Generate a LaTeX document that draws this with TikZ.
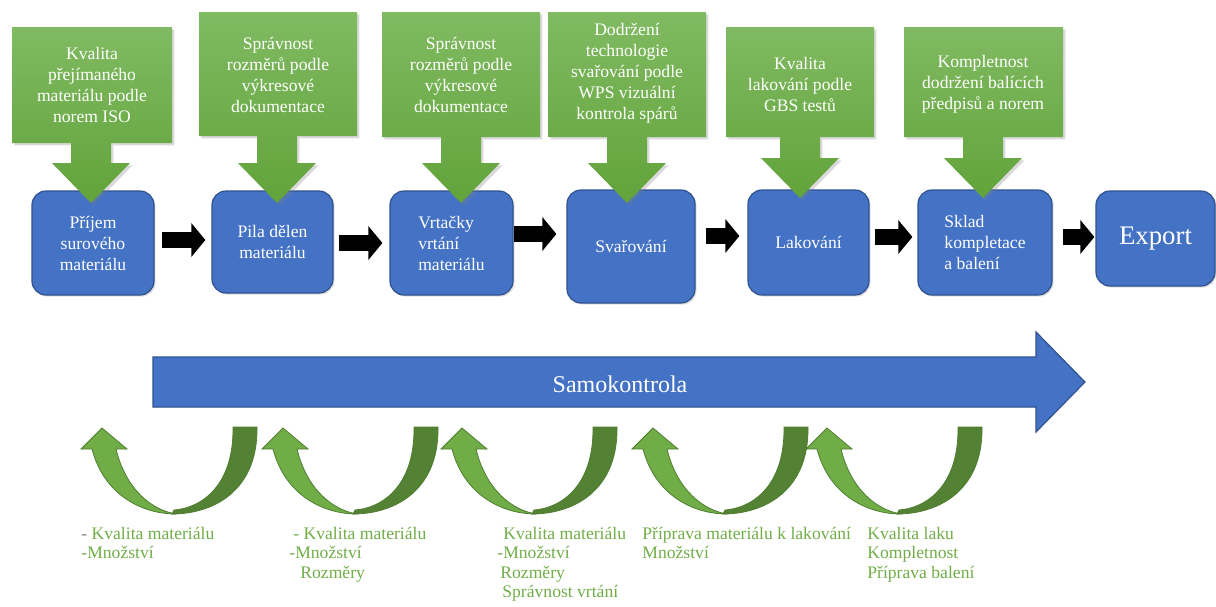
\documentclass[tikz,border=0pt]{standalone}
\usepackage{fontspec}
\setmainfont{Liberation Serif}
\usetikzlibrary{arrows.meta, positioning, calc, shadows}
\definecolor{ProcBlue}{HTML}{4472C4}
\definecolor{ProcEdge}{HTML}{2F528F}
\definecolor{CheckLight}{HTML}{80BA62}
\definecolor{CheckDeep}{HTML}{62A33A}
\definecolor{LoopLight}{HTML}{70AD47}
\definecolor{LoopDark}{HTML}{548235}
\definecolor{LoopEdge}{HTML}{4E7D30}

\begin{document}
\begin{tikzpicture}[x=0.5pt, y=-0.5pt,
        proc/.style={rectangle, rounded corners=7pt, draw=ProcEdge, line width=0.6pt, fill=ProcBlue, text=white, align=center, inner sep=0pt, font=\rmfamily\fontsize{8.8}{10.5}\selectfont, drop shadow={opacity=0.25, shadow xshift=0.8pt, shadow yshift=-0.8pt}},
        callout/.style={top color=CheckLight, bottom color=CheckDeep, drop shadow={opacity=0.3, shadow xshift=1.2pt, shadow yshift=-1.2pt}},
        checktext/.style={text=white, align=center, inner sep=0pt, font=\rmfamily\fontsize{8.8}{10.5}\selectfont},
        flow/.style={-{Triangle[length=7pt, width=16.5pt]}, line width=8pt, black},
        note/.style={anchor=base west, align=left, inner sep=0pt, text=LoopLight, font=\rmfamily\fontsize{8.8}{9.75}\selectfont}
    ]
        \useasboundingbox (0,0) rectangle (1216,606);

        % process steps
        \node[proc, minimum width=61pt, minimum height=52pt] (s1) at (93,243) {Příjem\\surového\\materiálu};
        \node[proc, minimum width=60.5pt, minimum height=51pt] (s2) at (272.5,242) {Pila dělen\\materiálu};
        \node[proc, minimum width=61.5pt, minimum height=52pt, align=left] (s3) at (451.5,243) {Vrtačky\\vrtání\\materiálu};
        \node[proc, minimum width=64pt, minimum height=56.5pt] (s4) at (631,246.5) {Svařování};
        \node[proc, minimum width=60.5pt, minimum height=52.5pt] (s5) at (808.5,242.5) {Lakování};
        \node[proc, minimum width=67pt, minimum height=52.5pt, align=left] (s6) at (985,242.5) {Sklad\\kompletace\\a balení};
        \node[proc, minimum width=59.5pt, minimum height=47.5pt, font=\rmfamily\fontsize{13.4}{15}\selectfont] (ex) at (1155.5,238.5) {Export};

        \draw[flow, shorten <=3.5pt, shorten >=3pt] ([yshift=1.5pt]s1.east) -- ([yshift=1pt]s2.west);
        \draw[flow, shorten <=2.5pt, shorten >=3.5pt] ([yshift=-0.5pt]s2.east) -- ([yshift=0pt]s3.west);
        \draw[flow, shorten <=0pt, shorten >=5pt] ([yshift=4.5pt]s3.east) -- ([yshift=6.25pt]s4.west);
        \draw[flow, shorten <=5pt, shorten >=4pt] ([yshift=5.25pt]s4.east) -- ([yshift=3.25pt]s5.west);
        \draw[flow, shorten <=2.5pt, shorten >=2.5pt] ([yshift=2.75pt]s5.east) -- ([yshift=2.75pt]s6.west);
        \draw[flow, shorten <=5pt, shorten >=0.5pt] ([yshift=2.75pt]s6.east) -- ([yshift=0.75pt]ex.west);

        % quality checks above
        \foreach \l/\r/\t/\b/\c/\h in {12/172/27/143/91/163, 199/357/12/136/277/163, 382/540/12/137/461/163,
                548/706/12/137/627/163, 726/874/27/137/800/158, 904/1063/27/137/983/158}
            \path[callout] (\l,\t) -- (\r,\t) -- (\r,\b) -- ({\c+20},\b) -- ({\c+20},\h) -- ({\c+39},\h)
                -- (\c,{\h+40}) -- ({\c-39},\h) -- ({\c-20},\h) -- ({\c-20},\b) -- (\l,\b) -- cycle;

        \node[checktext] (q1) at (92,85) {Kvalita\\přejímaného\\materiálu podle\\norem ISO};
        \node[checktext] (q2) at (278,75) {Správnost\\rozměrů podle\\výkresové\\dokumentace};
        \node[checktext] (q3) at (461,75) {Správnost\\rozměrů podle\\výkresové\\dokumentace};
        \node[checktext] (q4) at (627,73) {Dodržení\\technologie\\svařování podle\\WPS vizuální\\kontrola spárů};
        \node[checktext] (q5) at (800,84) {Kvalita\\lakování podle\\GBS testů};
        \node[checktext] (q6) at (983,84) {Kompletnost\\dodržení balících\\předpisů a norem};

        % self check
        \path[fill=ProcBlue, draw=ProcEdge, line width=0.6pt] (153,357) -- (1036,357) -- (1036,332) -- (1085,382)
            -- (1036,432) -- (1036,407) -- (153,407) -- cycle;
        \node[text=white, font=\rmfamily\fontsize{12}{14}\selectfont] (sk) at (620,384) {Samokontrola};

        % feedback loops
        \foreach \t in {102,283,462,653,827} {
            \path[fill=LoopDark, draw=LoopEdge, line width=0.4pt] ({\t+155},427) .. controls ({\t+156},492) and ({\t+110},514) .. ({\t+70},514)
                -- ({\t+72},510) .. controls ({\t+100},508) and ({\t+132},485) .. ({\t+131},427) -- cycle;
            \path[fill=LoopLight, draw=LoopEdge, line width=0.4pt] ({\t-10},449) .. controls ({\t+2},495) and ({\t+40},514) .. ({\t+74},514)
                .. controls ({\t+50},510) and ({\t+24},490) .. ({\t+14},449) -- ({\t+25},449) -- (\t,428) -- ({\t-21},449) -- cycle;
        }

        % base anchor sits on the last line
        \node[note] (n1) at (81,558.5) {{\color{gray}-} Kvalita materiálu\\-Množství};
        \node[note] (n2) at (289,578) {\hspace*{2pt}- Kvalita materiálu\\-Množství\\\hspace*{5.5pt}Rozměry};
        \node[note] (n3) at (497,597.5) {\hspace*{3pt}Kvalita materiálu\\-Množství\\\hspace*{1.5pt}Rozměry\\\hspace*{2.5pt}Správnost vrtání};
        \node[note] (n4) at (642,558.5) {Příprava materiálu k lakování\\Množství};
        \node[note] (n5) at (867,578) {Kvalita laku\\Kompletnost\\Příprava balení};

    \end{tikzpicture}
\end{document}
